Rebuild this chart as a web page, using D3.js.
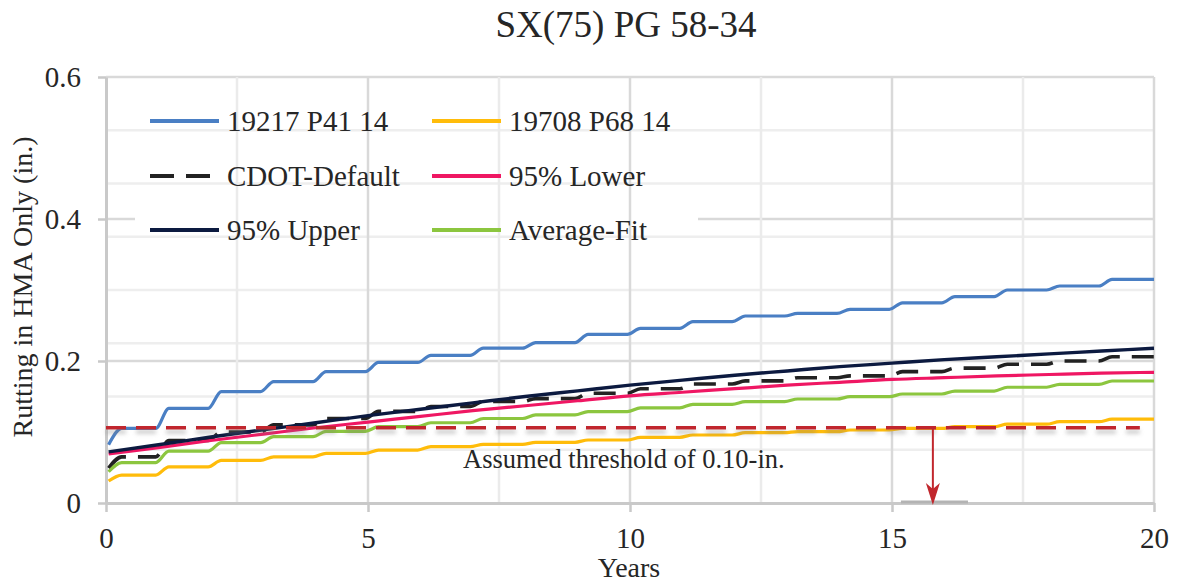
<!DOCTYPE html>
<html><head><meta charset="utf-8">
<script src="https://cdn.jsdelivr.net/npm/d3@7"></script>
<style>
body{margin:0;background:#fff}
svg{display:block}
text{font-family:"Liberation Serif","Times New Roman",serif;fill:#262626}
</style>
</head><body>
<svg id="c" width="1177" height="584"></svg>
<script>
// ---- data ----
const title = "SX(75) PG 58-34";
const xLabel = "Years";
const yLabel = "Rutting in HMA Only (in.)";
const xTicks = [0, 5, 10, 15, 20];
const xMinor = [2.5, 7.5, 12.5, 17.5];
const yTicks = [0, 0.2, 0.4, 0.6];
const yMinor = [0.075, 0.15, 0.225, 0.3, 0.375, 0.45, 0.525];
const seriesNames = ["19217 P41 14", "19708 P68 14", "CDOT-Default", "95% Lower", "95% Upper", "Average-Fit"];

// step-like series: value at first point, then one plateau per year (0-1, 1-2, ... 19-20)
const p41Start = 0.082;
const p41 = [0.105, 0.1334, 0.157, 0.171, 0.185, 0.198, 0.208, 0.218, 0.226, 0.2375,
             0.246, 0.2555, 0.2634, 0.267, 0.2728, 0.282, 0.2906, 0.300, 0.3056, 0.315];
const p68Start = 0.031;
const p68 = [0.0394, 0.051, 0.060, 0.065, 0.070, 0.0746, 0.0793, 0.0826, 0.0855, 0.0887,
             0.0925, 0.0958, 0.099, 0.1005, 0.1028, 0.105, 0.1075, 0.111, 0.1145, 0.118];
const cdotStart = 0.049;
const cdot = [0.065, 0.088, 0.100, 0.110, 0.119, 0.129, 0.136, 0.143, 0.147, 0.1545,
              0.161, 0.1676, 0.172, 0.1765, 0.179, 0.185, 0.190, 0.1955, 0.200, 0.206];
const avgStart = 0.044;
const avgFit = [0.057, 0.073, 0.085, 0.0934, 0.101, 0.1075, 0.113, 0.119, 0.124, 0.1286,
                0.134, 0.139, 0.1427, 0.1465, 0.1497, 0.1535, 0.1577, 0.163, 0.167, 0.1718];

// smooth confidence bounds
const fitYears = [0.05, 1, 2, 3, 4, 5, 6, 7, 8, 9, 10, 11, 12, 13, 14, 15, 16, 17, 18, 19, 20];
const upper95 = [0.072, 0.082, 0.093, 0.103, 0.113, 0.123, 0.132, 0.141, 0.150, 0.158, 0.166,
                 0.173, 0.180, 0.186, 0.192, 0.197, 0.202, 0.206, 0.210, 0.214, 0.218];
const lower95 = [0.069, 0.078, 0.088, 0.097, 0.106, 0.114, 0.122, 0.130, 0.137, 0.144, 0.151,
                 0.156, 0.161, 0.166, 0.170, 0.174, 0.1765, 0.179, 0.181, 0.183, 0.184];

const threshold = 0.106;
const thresholdEnd = 19.73;
const thresholdText = "Assumed threshold of 0.10-in.";
const arrowYear = 15.78;
const axisMark = [15.17, 16.45];

// ---- layout ----
const svg = d3.select("#c");
const L = 106, R = 1154, T = 77, B = 503;
const x = d3.scaleLinear().domain([0, 20]).range([L, R]);
const y = d3.scaleLinear().domain([0, 0.6]).range([B, T]);

const defs = svg.append("defs");
const f = defs.append("filter").attr("id", "sh").attr("filterUnits", "userSpaceOnUse")
  .attr("x", 0).attr("y", 0).attr("width", 1177).attr("height", 584);
f.append("feDropShadow").attr("dx", 0).attr("dy", 4).attr("stdDeviation", 2)
  .attr("flood-color", "#7f7f7f").attr("flood-opacity", 0.45);

// major horizontal gridlines
svg.append("g").selectAll("line").data(yTicks.filter(d => d > 0)).join("line")
  .attr("x1", L).attr("x2", R).attr("y1", d => y(d)).attr("y2", d => y(d))
  .attr("stroke", "#d9d9d9").attr("stroke-width", 2.5);

// legend background (hides the 0.4 gridline behind the legend)
svg.append("rect").attr("x", 135).attr("y", 95).attr("width", 563).attr("height", 155).attr("fill", "#fff");

// minor gridlines
svg.append("g").selectAll("line").data(yMinor).join("line")
  .attr("x1", L).attr("x2", R).attr("y1", d => y(d)).attr("y2", d => y(d))
  .attr("stroke", "#eeeeee").attr("stroke-width", 2.5);
svg.append("g").selectAll("line").data(xMinor).join("line")
  .attr("x1", d => x(d)).attr("x2", d => x(d)).attr("y1", T).attr("y2", B)
  .attr("stroke", "#ebebeb").attr("stroke-width", 2.5);
svg.append("g").selectAll("line").data(xTicks.filter(d => d > 0)).join("line")
  .attr("x1", d => x(d)).attr("x2", d => x(d)).attr("y1", T).attr("y2", B)
  .attr("stroke", "#d9d9d9").attr("stroke-width", 2.5);

// axes
const xa = svg.append("g").attr("transform", `translate(0,${B})`)
  .call(d3.axisBottom(x).tickValues(xTicks).tickSize(9).tickSizeOuter(0).tickPadding(15).tickFormat(d3.format("d")));
const ya = svg.append("g").attr("transform", `translate(${L},0)`)
  .call(d3.axisLeft(y).tickValues(yTicks).tickSize(8).tickSizeOuter(0).tickPadding(17)
    .tickFormat(d => d === 0 ? "0" : d3.format(".1f")(d)));
[xa, ya].forEach(a => {
  a.attr("font-family", null);
  a.select(".domain").attr("stroke", "#c9c9c9").attr("stroke-width", 3);
  a.selectAll(".tick line").attr("stroke", "#c9c9c9").attr("stroke-width", 2.5);
  a.selectAll(".tick text").attr("font-size", 29).attr("fill", "#262626")
    .style("font-family", '"Liberation Serif","Times New Roman",serif');
});

svg.append("line").attr("x1", x(axisMark[0])).attr("x2", x(axisMark[1]))
  .attr("y1", B - 1).attr("y2", B - 1).attr("stroke", "#b3b3b3").attr("stroke-width", 3);

// ---- series ----
function stepPoints(start, vals) {
  const pts = [[0.05, start]];
  vals.forEach((v, i) => {
    pts.push([i === 0 ? 0.3 : i + 0.2, v]);
    pts.push([i === vals.length - 1 ? 20 : i + 0.95, v]);
  });
  return pts;
}
const line = d3.line().x(d => x(d[0])).y(d => y(d[1])).curve(d3.curveMonotoneX);

const series = [
  {name: seriesNames[0], pts: stepPoints(p41Start, p41), color: "#4a7fc4", w: 3.2},
  {name: seriesNames[1], pts: stepPoints(p68Start, p68), color: "#ffbc0a", w: 3.2},
  {name: seriesNames[2], pts: stepPoints(cdotStart, cdot), color: "#222222", w: 3.6, dash: "22,12"},
  {name: seriesNames[3], pts: fitYears.map((t, i) => [t, lower95[i]]), color: "#ef1763", w: 3.2},
  {name: seriesNames[4], pts: fitYears.map((t, i) => [t, upper95[i]]), color: "#0c1a40", w: 3.4},
  {name: seriesNames[5], pts: stepPoints(avgStart, avgFit), color: "#8cc63f", w: 3.2},
];
svg.append("g").selectAll("path").data(series).join("path")
  .attr("d", d => line(d.pts)).attr("fill", "none")
  .attr("stroke", d => d.color).attr("stroke-width", d => d.w)
  .attr("stroke-dasharray", d => d.dash || null);

// threshold
svg.append("line").attr("x1", x(0)).attr("x2", x(thresholdEnd))
  .attr("y1", y(threshold)).attr("y2", y(threshold))
  .attr("stroke", "#c1272d").attr("stroke-width", 3.5).attr("stroke-dasharray", "20,10")
  .attr("filter", "url(#sh)");
const ax = x(arrowYear);
svg.append("line").attr("x1", ax).attr("x2", ax).attr("y1", y(threshold)).attr("y2", B - 10)
  .attr("stroke", "#c1272d").attr("stroke-width", 2);
svg.append("path")
  .attr("d", `M${ax},${B + 2} L${ax - 7},${B - 20} L${ax},${B - 14} L${ax + 7},${B - 20} Z`)
  .attr("fill", "#c1272d");
svg.append("text").attr("x", 463).attr("y", 468).attr("font-size", 26.5).text(thresholdText);

// ---- legend ----
const legPos = [[150, 121], [432, 121], [150, 176], [432, 176], [150, 230], [432, 230]];
const lg = svg.append("g").selectAll("g").data(series).join("g")
  .attr("transform", (d, i) => `translate(${legPos[i][0]},${legPos[i][1]})`);
lg.append("line").attr("x1", 0).attr("x2", 69).attr("y1", 0).attr("y2", 0)
  .attr("stroke", d => d.color).attr("stroke-width", 4)
  .attr("stroke-dasharray", d => d.dash ? "24,12" : null);
lg.append("text").attr("x", 77).attr("y", 0).attr("dy", "0.34em").attr("font-size", 29).text(d => d.name);

// ---- titles ----
svg.append("text").attr("x", 626).attr("y", 37).attr("text-anchor", "middle").attr("font-size", 37).text(title);
svg.append("text").attr("x", 629).attr("y", 577).attr("text-anchor", "middle").attr("font-size", 28).text(xLabel);
svg.append("text").attr("transform", "translate(32,287) rotate(-90)").attr("text-anchor", "middle")
  .attr("font-size", 28).text(yLabel);
</script>
</body></html>
